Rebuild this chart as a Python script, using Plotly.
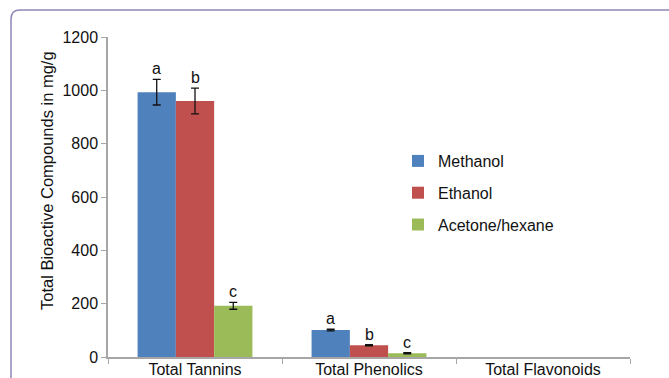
import plotly.graph_objects as go

categories = ["Total Tannins", "Total Phenolics", "Total Flavonoids"]
series_names = ["Methanol", "Ethanol", "Acetone/hexane"]
methanol = [993, 101, None]
ethanol = [960, 44, None]
acetone = [192, 14, None]
methanol_err = [48, 3, None]
ethanol_err = [48, 2, None]
acetone_err = [13, 2, None]
methanol_letters = ["a", "a", ""]
ethanol_letters = ["b", "b", ""]
acetone_letters = ["c", "c", ""]
y_ticks = [0, 200, 400, 600, 800, 1000, 1200]

colors = ["#4F81BD", "#C0504D", "#9BBB59"]
values = [methanol, ethanol, acetone]
errs = [methanol_err, ethanol_err, acetone_err]
letters = [methanol_letters, ethanol_letters, acetone_letters]

W, H = 669, 378
ML, MR, MT, MB = 108, 39, 37, 21
PW, PH = W - ML - MR, H - MT - MB
FONT = "Liberation Sans, Arial, sans-serif"
FS = 16

fig = go.Figure()
for i, name in enumerate(series_names):
    fig.add_trace(go.Bar(
        x=categories, y=values[i], name=name,
        marker=dict(color=colors[i], line=dict(width=0)),
        error_y=dict(type="data", array=errs[i], visible=True,
                     color="#111111", thickness=1.3, width=4),
        legendgroup=name,
    ))

bar_px = PW / 3 * (1 - 0.34) / 3
annotations = []
for i in range(3):
    shift = (i - 1) * bar_px
    for j, cat in enumerate(categories):
        if letters[i][j]:
            annotations.append(dict(
                x=cat, y=values[i][j] + (errs[i][j] or 0), xref="x", yref="y",
                text=letters[i][j], showarrow=False, xshift=shift,
                yanchor="bottom", yshift=0,
                font=dict(family=FONT, size=FS, color="#111111")))

annotations.append(dict(
    x=(47 - ML) / PW, y=(MT + PH - 181) / PH, xref="paper", yref="paper",
    text="Total Bioactive Compounds in mg/g", textangle=-90, showarrow=False,
    xanchor="center", yanchor="middle",
    font=dict(family=FONT, size=16.5, color="#111111")))

# frame with rounded top-left corner
x0 = (11 - ML) / PW
x1 = (690 - ML) / PW
yt = (MT + PH - 10) / PH
yb = (MT + PH - 400) / PH
rx = 9 / PW
ry = 9 / PH
frame_path = f"M {x0},{yb} L {x0},{yt - ry} Q {x0},{yt} {x0 + rx},{yt} L {x1},{yt}"

fig.update_layout(
    width=W, height=H,
    margin=dict(l=ML, r=MR, t=MT, b=MB),
    paper_bgcolor="white", plot_bgcolor="white",
    barmode="group", bargap=0.34, bargroupgap=0,
    font=dict(family=FONT, size=FS, color="#111111"),
    showlegend=True,
    legend=dict(x=(398 - ML) / PW, y=(MT + PH - 144) / PH, xanchor="left", yanchor="top",
                bgcolor="rgba(0,0,0,0)", tracegroupgap=8,
                font=dict(family=FONT, size=FS, color="#111111"),
                itemwidth=30),
    annotations=annotations,
    shapes=[dict(type="path", path=frame_path, xref="paper", yref="paper",
                 line=dict(color="#8C88B8", width=1.5), layer="above")],
    xaxis=dict(type="category", showline=True, linecolor="#A6A6A6", linewidth=1.5,
               ticks="outside", tickson="boundaries", ticklen=5, tickcolor="#A6A6A6",
               tickwidth=1.2, showgrid=False, automargin=False, ticklabelstandoff=-3,
               tickfont=dict(family=FONT, size=FS, color="#111111")),
    yaxis=dict(range=[0, 1200], tickvals=y_ticks, showline=True, linecolor="#A6A6A6",
               linewidth=1.5, ticks="outside", ticklen=5, tickcolor="#A6A6A6",
               tickwidth=1.2, showgrid=False, zeroline=False, automargin=False,
               tickfont=dict(family=FONT, size=FS, color="#111111")),
)

fig.write_html("out.html")
